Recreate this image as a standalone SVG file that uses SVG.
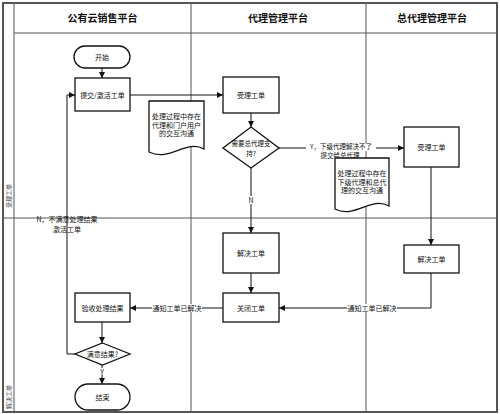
<svg xmlns="http://www.w3.org/2000/svg" width="500" height="414" viewBox="0 0 500 414">
<style>
text{font-family:"Noto Sans CJK SC","Noto Sans",sans-serif;fill:#111;text-anchor:middle;dominant-baseline:central}
.hd{font-size:10px;font-weight:bold}
.t{font-size:7px}
.t2{font-size:6.5px}
.lb{font-size:7px}
.lb2{font-size:6.5px}
.ln{font-size:6px;fill:#444}
.box{fill:#fff;stroke:#111;stroke-width:1.3}
.grid{stroke:#555;stroke-width:1;fill:none}
.frame{stroke:#555;stroke-width:2;fill:none}
.c{stroke:#111;stroke-width:1;fill:none}
.bg{fill:#fff}
</style>
<defs>
<marker id="ah" viewBox="0 0 8 8" refX="8" refY="4" markerWidth="6" markerHeight="6" orient="auto" markerUnits="userSpaceOnUse">
<path d="M0,0 L8,4 L0,8 Z" fill="#111"/>
</marker>
</defs>
<rect x="0" y="0" width="500" height="414" fill="#fff"/>
<g id="pool">
<rect class="frame" x="3" y="3" width="494" height="409"/>
<line class="grid" x1="14" y1="3" x2="14" y2="412"/>
<line class="grid" x1="14" y1="33" x2="497" y2="33"/>
<line class="grid" x1="191" y1="3" x2="191" y2="412"/>
<line class="grid" x1="366" y1="3" x2="366" y2="412"/>
<line class="grid" x1="3" y1="218" x2="497" y2="218"/>
<text class="hd" x="102.5" y="17.5">公有云销售平台</text>
<text class="hd" x="278" y="17.5">代理管理平台</text>
<text class="hd" x="432" y="17.5">总代理管理平台</text>
<text class="ln" transform="translate(8.5,196) rotate(-90)">受理工单</text>
<text class="ln" transform="translate(8.5,397) rotate(-90)">解决工单</text>
</g>
<g id="connectors">
<line class="c" x1="102" y1="68" x2="102" y2="78" marker-end="url(#ah)"/>
<line class="c" x1="130" y1="95" x2="223" y2="95" marker-end="url(#ah)"/>
<line class="c" x1="251" y1="113" x2="251" y2="127" marker-end="url(#ah)"/>
<line class="c" x1="279" y1="148" x2="404" y2="148" marker-end="url(#ah)"/>
<line class="c" x1="251" y1="168" x2="251" y2="233" marker-end="url(#ah)"/>
<line class="c" x1="431" y1="167" x2="431" y2="245" marker-end="url(#ah)"/>
<line class="c" x1="251" y1="273" x2="251" y2="293" marker-end="url(#ah)"/>
<polyline class="c" points="431,273 431,308 279,308" marker-end="url(#ah)"/>
<line class="c" x1="223" y1="308" x2="130" y2="308" marker-end="url(#ah)"/>
<line class="c" x1="102" y1="322" x2="102" y2="343" marker-end="url(#ah)"/>
<line class="c" x1="102" y1="365" x2="102" y2="384" marker-end="url(#ah)"/>
<polyline class="c" points="75,354 67,354 67,95 75,95" marker-end="url(#ah)"/>
<rect class="bg" x="306" y="143" width="70" height="8"/>
<text class="lb2" x="341" y="146">Y，下级代理解决不了</text>
<text class="lb2" x="340" y="155">提交给总代理</text>
<rect class="bg" x="247" y="196" width="8" height="8"/>
<text class="lb" x="251" y="200">N</text>
<rect class="bg" x="99" y="368" width="6" height="7"/>
<text class="lb" x="102" y="372">Y</text>
<rect class="bg" x="347" y="304" width="50" height="8"/>
<text class="lb" x="372" y="308">通知工单已解决</text>
<rect class="bg" x="152" y="304" width="50" height="8"/>
<text class="lb" x="177" y="308">通知工单已解决</text>
<text class="lb" x="67" y="219">N，不满意处理结果</text>
<text class="lb" x="67" y="229">激活工单</text>
</g>
<g id="start">
<rect class="box" x="74" y="46" width="56" height="22" rx="11"/>
<text class="t" x="102" y="57">开始</text>
</g>
<g id="submit">
<rect class="box" x="75" y="78" width="55" height="33"/>
<text class="t" x="102.5" y="94.5">提交/激活工单</text>
</g>
<g id="note1">
<path class="box" d="M149,101 H204 V149 C186,139 170,162 149,152 Z"/>
<text class="t" x="176.5" y="116">处理过程中存在</text>
<text class="t" x="176.5" y="124.5">代理和门户用户</text>
<text class="t" x="176.5" y="133">的交互沟通</text>
</g>
<g id="accept2">
<rect class="box" x="223" y="77" width="56" height="36"/>
<text class="t" x="251" y="95">受理工单</text>
</g>
<g id="decide2">
<polygon class="box" points="251,127 279,148 251,168 223,148"/>
<text class="t2" x="251" y="143">需要总代理支</text>
<text class="t2" x="251" y="152.5">持?</text>
</g>
<g id="accept3">
<rect class="box" x="404" y="127" width="55" height="40"/>
<text class="t" x="431.5" y="147">受理工单</text>
</g>
<g id="note2">
<path class="box" d="M335,158 H389 V206 C371,196 355,219 335,209 Z"/>
<text class="t" x="362" y="173">处理过程中存在</text>
<text class="t" x="362" y="181.5">下级代理和总代</text>
<text class="t" x="362" y="190">理的交互沟通</text>
</g>
<g id="solve3">
<rect class="box" x="404" y="245" width="55" height="28"/>
<text class="t" x="431.5" y="259">解决工单</text>
</g>
<g id="solve2">
<rect class="box" x="223" y="233" width="56" height="40"/>
<text class="t" x="251" y="253">解决工单</text>
</g>
<g id="close2">
<rect class="box" x="223" y="293" width="56" height="29"/>
<text class="t" x="251" y="307.5">关闭工单</text>
</g>
<g id="check">
<rect class="box" x="75" y="293" width="55" height="29"/>
<text class="t" x="102.5" y="307.5">验收处理结果</text>
</g>
<g id="satisfied">
<polygon class="box" points="102.5,343 130,354 102.5,365 75,354"/>
<text class="t" x="102.5" y="354">满意结果?</text>
</g>
<g id="end">
<rect class="box" x="75" y="384" width="55" height="26" rx="13"/>
<text class="t" x="102.5" y="397">结束</text>
</g>
</svg>
